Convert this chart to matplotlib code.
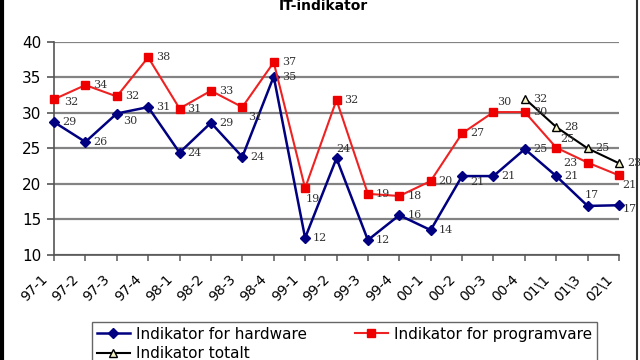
import matplotlib

matplotlib.use("Agg")

import matplotlib.pyplot as plt
from matplotlib.lines import Line2D

QUARTERS = ["97-1", "97-2", "97-3", "97-4", "98-1", "98-2", "98-3", "98-4",
            "99-1", "99-2", "99-3", "99-4", "00-1", "00-2", "00-3", "00-4",
            "01\\1", "01\\3", "02\\1"]

HARDWARE = [28.7, 25.9, 29.9, 30.8, 24.4, 28.6, 23.8, 35.1, 12.4, 23.6,
            12.1, 15.6, 13.5, 21.1, 21.1, 24.9, 21.1, 16.9, 17.0]
PROGRAMVARE = [31.9, 33.9, 32.3, 37.8, 30.6, 33.1, 30.8, 37.1, 19.4, 31.8,
               18.6, 18.3, 20.4, 27.1, 30.1, 30.1, 25.1, 23.0, 21.2]
TOTALT_X = [15, 16, 17, 18]
TOTALT = [32.0, 28.0, 25.0, 22.9]

# label offsets in pixels (default is just right of the point)
HW_OFFSETS = {9: (0, 9, "left"), 2: (6, -7, "left"), 13: (8, -6, "left"),
              17: (-3, 11, "left"), 18: (4, -4, "left")}
PR_OFFSETS = {0: (10, -3, "left"), 6: (6, -10, "left"), 8: (1, -11, "left"),
              14: (4, 10, "left"), 16: (4, 9, "left"), 17: (-24, 0, "left"),
              18: (3, -10, "left")}
TOT_OFFSETS = {}

DPI = 100
fig = plt.figure(figsize=(6.4, 3.6), dpi=DPI)
ax = fig.add_axes([54 / 640, 1 - 255 / 360, 565 / 640, 213.3 / 360])

x = list(range(len(QUARTERS)))
ax.plot(x, HARDWARE, color="#000080", lw=1.8, marker="D", ms=5.5,
        clip_on=False, zorder=3, label="Indikator for hardware")
ax.plot(x, PROGRAMVARE, color="#ee2222", lw=1.5, marker="s", ms=6,
        mfc="#ee0000", mec="#ee0000", clip_on=False, zorder=3,
        label="Indikator for programvare")
ax.plot(TOTALT_X, TOTALT, color="black", lw=1.5, marker="^", ms=6,
        mfc="#f4f4c8", mec="black", clip_on=False, zorder=4,
        label="Indikator totalt")


def put_labels(xs, ys, offsets):
    for i, (xi, yi) in enumerate(zip(xs, ys)):
        dx, dy, ha = offsets.get(i, (8, 0, "left"))
        ax.annotate(f"{yi:.0f}", (xi, yi), xytext=(dx, dy),
                    textcoords="offset pixels", ha=ha, va="center",
                    fontsize=8, family="DejaVu Serif", color="#333333",
                    annotation_clip=False, zorder=5)


put_labels(x, HARDWARE, HW_OFFSETS)
put_labels(x, PROGRAMVARE, PR_OFFSETS)
put_labels(TOTALT_X, TOTALT, TOT_OFFSETS)

ax.set_xlim(0, len(QUARTERS) - 1)
ax.set_ylim(10, 40)
ax.set_yticks(range(10, 41, 5))
ax.set_xticks(x)
ax.set_xticklabels([])
# rotated category labels, set a bit left of each tick like the original
for xi, name in zip(x, QUARTERS):
    ax.annotate(name, (xi, 0), xycoords=("data", "axes fraction"),
                xytext=(-9, -22), textcoords="offset pixels", rotation=45,
                ha="right", va="center", rotation_mode="anchor",
                fontsize=10, annotation_clip=False)
for lbl in ax.get_yticklabels():
    lbl.set_fontsize(11)
ax.tick_params(axis="x", length=4, width=1.2, color="#666666")
ax.tick_params(axis="y", length=5, width=1.2, color="#555555", pad=4)
ax.grid(axis="y", color="#838383", lw=1.6)
ax.set_axisbelow(True)
for side in ["top", "right"]:
    ax.spines[side].set_visible(False)
for side in ["left", "bottom"]:
    ax.spines[side].set_color("#555555")
    ax.spines[side].set_linewidth(1.2)

fig.text(323 / 640, 1 - 10 / 360, "IT-indikator", ha="center", va="baseline",
         fontsize=10, fontweight="bold")

h, l = ax.get_legend_handles_labels()
order = [0, 2, 1]
fig.legend([h[i] for i in order], [l[i] for i in order], ncol=2,
           loc="upper left", mode="expand",
           bbox_to_anchor=(92 / 640, 1 - 322 / 360 - 0.2, 505 / 640, 0.2),
           fontsize=11, frameon=True, fancybox=False, edgecolor="#666666",
           framealpha=1, handlelength=2.2, borderaxespad=0,
           borderpad=0.3, labelspacing=0.3, handletextpad=0.4)

fig.add_artist(Line2D([1.5 / 640, 1.5 / 640], [0, 1], color="black", lw=3))
fig.add_artist(Line2D([637 / 640, 637 / 640], [0, 1], color="#333333", lw=1.5))

fig.savefig("out.png", dpi=DPI)
